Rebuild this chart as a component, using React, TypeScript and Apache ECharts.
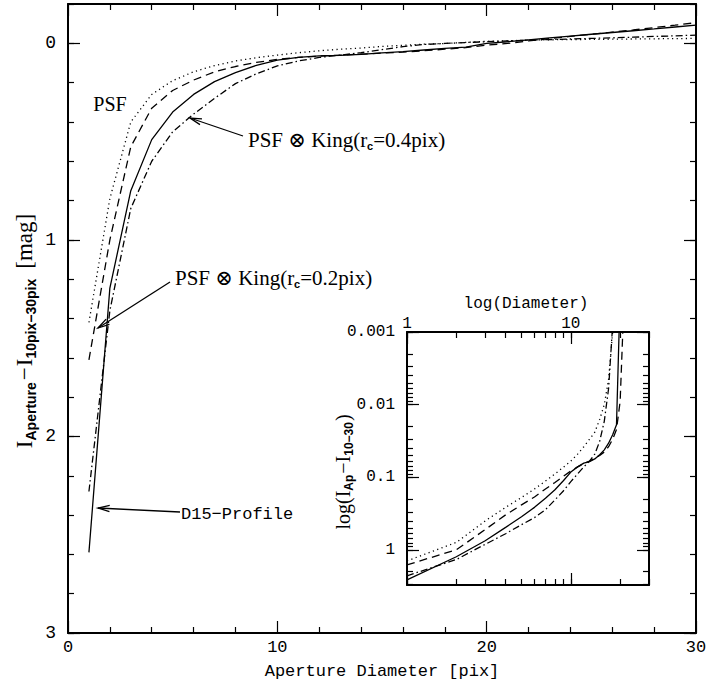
import React, { useEffect, useRef } from 'react';
import * as echarts from 'echarts';

// ---------- data ----------
const diameters = [1, 2, 3, 4, 5, 6, 7, 8, 9, 10, 11, 12, 13, 14, 15, 16, 17, 18, 19, 20, 21, 22, 23, 24, 25, 26, 27, 28, 29, 30];
// dotted: PSF
const psf = [1.42, 0.79, 0.40, 0.26, 0.19, 0.145, 0.113, 0.09, 0.073, 0.06, 0.048, 0.038, 0.03, 0.024, 0.016, 0.01, 0.0045, 0.001, -0.005, -0.01, -0.013, -0.016, -0.018, -0.019, -0.02, -0.021, -0.022, -0.023, -0.024, -0.025];
// dashed: PSF x King(rc=0.2pix)
const king02 = [1.61, 1.0, 0.526, 0.33, 0.24, 0.187, 0.145, 0.118, 0.097, 0.082, 0.072, 0.065, 0.06, 0.055, 0.05, 0.045, 0.038, 0.03, 0.022, 0.009, 0.0005, -0.012, -0.024, -0.035, -0.046, -0.057, -0.068, -0.08, -0.092, -0.105];
// dash-dot: PSF x King(rc=0.4pix)
const king04 = [2.28, 1.36, 0.84, 0.6, 0.45, 0.36, 0.28, 0.205, 0.155, 0.115, 0.09, 0.072, 0.06, 0.048, 0.032, 0.017, 0.006, 0.0008, -0.004, -0.008, -0.012, -0.016, -0.019, -0.022, -0.025, -0.028, -0.031, -0.035, -0.038, -0.042];
// solid: D15-Profile
const d15 = [2.59, 1.245, 0.75, 0.49, 0.35, 0.26, 0.195, 0.149, 0.112, 0.085, 0.072, 0.064, 0.061, 0.056, 0.049, 0.042, 0.034, 0.026, 0.019, 0.0003, -0.008, -0.018, -0.028, -0.037, -0.046, -0.055, -0.064, -0.073, -0.083, -0.093];

const mainYLabels = [0, 1, 2, 3];
const insetXMajor = [1, 10];
const insetXMinor = [1, 2, 3, 4, 5, 6, 7, 8, 9, 10, 20, 30];
const insetYMajor = [0.001, 0.01, 0.1, 1];
const insetYMinor = [0.001, 0.002, 0.003, 0.004, 0.005, 0.006, 0.007, 0.008, 0.009, 0.01, 0.02, 0.03, 0.04, 0.05, 0.06, 0.07, 0.08, 0.09, 0.1, 0.2, 0.3, 0.4, 0.5, 0.6, 0.7, 0.8, 0.9, 1, 2, 3];

// ---------- styles ----------
const MONO = '"Liberation Mono", "DejaVu Sans Mono", monospace';
const SERIF = '"Liberation Serif", "DejaVu Serif", serif';
const SANS = '"Liberation Sans", "DejaVu Sans", sans-serif';
const INK = '#000';

let measureCtx: CanvasRenderingContext2D | null = null;
function tw(text: string, font: string): number {
  if (!measureCtx) {
    const c = document.createElement('canvas');
    measureCtx = c.getContext('2d');
  }
  if (!measureCtx) return text.length * 9;
  measureCtx.font = font;
  return measureCtx.measureText(text).width;
}

type Part = { t: string; font: string; dy?: number; gap?: number };
function runWidth(parts: Part[]) {
  return parts.reduce((s, p) => s + tw(p.t, p.font) + (p.gap || 0), 0);
}
function textRun(parts: Part[], x0: number, y: number): any[] {
  let x = x0;
  const out: any[] = [];
  for (const p of parts) {
    out.push({
      type: 'text',
      x,
      y: y + (p.dy || 0),
      silent: true,
      style: { text: p.t, font: p.font, fill: INK, textAlign: 'left', textVerticalAlign: 'middle', verticalAlign: 'middle' },
    });
    x += tw(p.t, p.font) + (p.gap || 0);
  }
  return out;
}
function arrow(x1: number, y1: number, x2: number, y2: number): any[] {
  const ang = Math.atan2(y2 - y1, x2 - x1);
  const L = 12;
  const a = 0.26;
  const b1 = [x2 - L * Math.cos(ang - a), y2 - L * Math.sin(ang - a)];
  const b2 = [x2 - L * Math.cos(ang + a), y2 - L * Math.sin(ang + a)];
  return [
    { type: 'line', silent: true, shape: { x1, y1, x2, y2 }, style: { stroke: INK, lineWidth: 1.3 } },
    { type: 'polyline', silent: true, shape: { points: [b1, [x2, y2], b2] }, style: { stroke: INK, lineWidth: 1.3, fill: null } },
  ];
}

const axisLineStyle = { color: INK, width: 2 };
const tickStyle = { color: INK, width: 1.2 };

function mainX(position: 'bottom' | 'top', labels: boolean) {
  return {
    gridIndex: 0, type: 'value', min: 0, max: 30, interval: 10, position,
    axisLine: { show: true, onZero: false, lineStyle: axisLineStyle },
    axisTick: { show: true, inside: true, length: 12, lineStyle: tickStyle },
    minorTick: { show: true, splitNumber: 5, length: 6, lineStyle: tickStyle },
    axisLabel: { show: labels, margin: 6, color: INK, fontFamily: MONO, fontSize: 17 },
    splitLine: { show: false }, minorSplitLine: { show: false },
  };
}
function mainY(position: 'left' | 'right', major: boolean, labels: boolean) {
  const base: any = {
    gridIndex: 0, type: 'value', min: -0.2, max: 3, inverse: true, position,
    axisLine: { show: !major, onZero: false, lineStyle: axisLineStyle },
    axisTick: major
      ? { show: true, inside: true, length: 12, lineStyle: tickStyle, customValues: mainYLabels }
      : { show: true, inside: true, length: 6, lineStyle: tickStyle },
    axisLabel: labels
      ? {
          show: true, margin: 12, color: INK, fontFamily: MONO, fontSize: 18, customValues: mainYLabels,
          formatter: (v: number) => (Math.abs(v - Math.round(v)) < 1e-6 ? String(Math.round(v)) : ''),
        }
      : { show: false },
    splitLine: { show: false },
  };
  if (!major) base.interval = 0.2;
  return base;
}
function insetX(position: 'bottom' | 'top', major: boolean, labels: boolean) {
  return {
    gridIndex: 1, type: 'log', logBase: 10, min: 1, max: 30, position,
    axisLine: { show: !major, onZero: false, lineStyle: axisLineStyle },
    axisTick: { show: true, inside: true, length: major ? 12 : 6, lineStyle: tickStyle, customValues: major ? insetXMajor : insetXMinor },
    axisLabel: labels
      ? { show: true, margin: 0, color: INK, fontFamily: MONO, fontSize: 16, customValues: insetXMajor, formatter: (v: number) => String(Math.round(v)) }
      : { show: false },
    splitLine: { show: false },
  };
}
function insetY(position: 'left' | 'right', major: boolean, labels: boolean) {
  return {
    gridIndex: 1, type: 'log', logBase: 10, min: 0.001, max: 3.05, inverse: true, position,
    axisLine: { show: !major, onZero: false, lineStyle: axisLineStyle },
    axisTick: { show: true, inside: true, length: major ? 12 : 6, lineStyle: tickStyle, customValues: major ? insetYMajor : insetYMinor },
    axisLabel: labels
      ? {
          show: true, margin: 12, color: INK, fontFamily: MONO, fontSize: 16, customValues: insetYMajor,
          formatter: (v: number) => {
            const p = Math.round(Math.log10(v));
            return p >= 0 ? String(Math.pow(10, p)) : Math.pow(10, p).toFixed(-p);
          },
        }
      : { show: false },
    splitLine: { show: false },
  };
}

const curves = [
  { name: 'PSF', values: psf, dash: [1.2, 3.4] as any },
  { name: 'PSF King 0.2', values: king02, dash: [8, 5] as any },
  { name: 'PSF King 0.4', values: king04, dash: [7, 3, 1.5, 3] as any },
  { name: 'D15-Profile', values: d15, dash: 'solid' as any },
];

function buildOption() {
  const series: any[] = [];
  curves.forEach((c) => {
    series.push({
      name: c.name, type: 'line', xAxisIndex: 0, yAxisIndex: 0, symbol: 'none', clip: true,
      lineStyle: { color: INK, width: 1.3, type: c.dash, cap: 'butt' },
      data: diameters.map((d, i) => [d, c.values[i]]),
    });
    series.push({
      name: c.name + ' (log)', type: 'line', xAxisIndex: 2, yAxisIndex: 4, symbol: 'none', clip: true,
      lineStyle: { color: INK, width: 1.3, type: c.dash, cap: 'butt' },
      data: diameters.map((d, i) => [d, c.values[i] > 0 ? c.values[i] : null]),
    });
  });

  const serif21 = `21px ${SERIF}`;
  const subFont = `bold 11px ${SANS}`;

  const yTitleParts: Part[] = [
    { t: 'I', font: `23px ${SERIF}` },
    { t: 'Aperture', font: `bold 14px ${SANS}`, dy: 7, gap: 2 },
    { t: '\u2212', font: `23px ${SERIF}`, gap: 1 },
    { t: 'I', font: `23px ${SERIF}` },
    { t: '10pix\u221230pix', font: `bold 14px ${SANS}`, dy: 7, gap: 10 },
    { t: '[mag]', font: `23px ${SERIF}` },
  ];
  const yTitleW = runWidth(yTitleParts);

  const insetTitleParts: Part[] = [
    { t: 'log(I', font: `20px ${SERIF}` },
    { t: 'Ap', font: `bold 12px ${SANS}`, dy: 6, gap: 1 },
    { t: '\u2212I', font: `20px ${SERIF}` },
    { t: '10\u221230', font: `bold 12px ${SANS}`, dy: 6, gap: 1 },
    { t: ')', font: `20px ${SERIF}` },
  ];
  const insetTitleW = runWidth(insetTitleParts);

  const graphic: any[] = [
    // main x title
    { type: 'text', x: 382, y: 671, silent: true, style: { text: 'Aperture Diameter [pix]', font: `17px ${MONO}`, fill: INK, textAlign: 'center', textVerticalAlign: 'middle', verticalAlign: 'middle' } },
    // main y title (rotated)
    { type: 'group', x: 24, y: 331 + yTitleW / 2, rotation: Math.PI / 2, children: textRun(yTitleParts, 0, 0) },
    // inset top title
    { type: 'text', x: 526, y: 304, silent: true, style: { text: 'log(Diameter)', font: `16px ${MONO}`, fill: INK, textAlign: 'center', textVerticalAlign: 'middle', verticalAlign: 'middle' } },
    // inset y title (rotated)
    { type: 'group', x: 343, y: 472 + insetTitleW / 2, rotation: Math.PI / 2, children: textRun(insetTitleParts, 0, 0) },
    // PSF label
    { type: 'text', x: 110, y: 104, silent: true, style: { text: 'PSF', font: `20px ${SERIF}`, fill: INK, textAlign: 'center', textVerticalAlign: 'middle', verticalAlign: 'middle' } },
    ...textRun([
      { t: 'PSF \u2297 King(r', font: serif21 },
      { t: 'c', font: subFont, dy: 6 },
      { t: '=0.4pix)', font: serif21 },
    ], 248, 140),
    ...arrow(243, 136, 190, 118),
    ...textRun([
      { t: 'PSF \u2297 King(r', font: serif21 },
      { t: 'c', font: subFont, dy: 6 },
      { t: '=0.2pix)', font: serif21 },
    ], 175, 278),
    ...arrow(170, 282, 98, 328),
    ...textRun([{ t: 'D15\u2212Profile', font: `17px ${MONO}` }], 181, 514),
    ...arrow(180, 512, 98, 508),
  ];

  return {
    animation: false,
    backgroundColor: '#fff',
    grid: [
      { left: 68, top: 4, width: 628, height: 629, outerBoundsMode: 'none', containLabel: false },
      { left: 407, top: 332, width: 242, height: 253, outerBoundsMode: 'none', containLabel: false },
    ],
    xAxis: [
      mainX('bottom', true),
      mainX('top', false),
      insetX('bottom', false, false),
      insetX('top', false, true),
      insetX('bottom', true, false),
      insetX('top', true, false),
    ],
    yAxis: [
      mainY('left', false, true),
      mainY('left', true, false),
      mainY('right', false, false),
      mainY('right', true, false),
      insetY('left', false, true),
      insetY('left', true, false),
      insetY('right', false, false),
      insetY('right', true, false),
    ],
    series,
    graphic,
  };
}

export default function App() {
  const ref = useRef<HTMLDivElement>(null);
  useEffect(() => {
    if (!ref.current) return;
    const chart = echarts.init(ref.current, null, { renderer: 'svg' });
    chart.setOption(buildOption() as any);
    return () => chart.dispose();
  }, []);
  return <div ref={ref} style={{ position: 'absolute', left: 0, top: 0, width: 708, height: 694, background: '#fff' }} />;
}
